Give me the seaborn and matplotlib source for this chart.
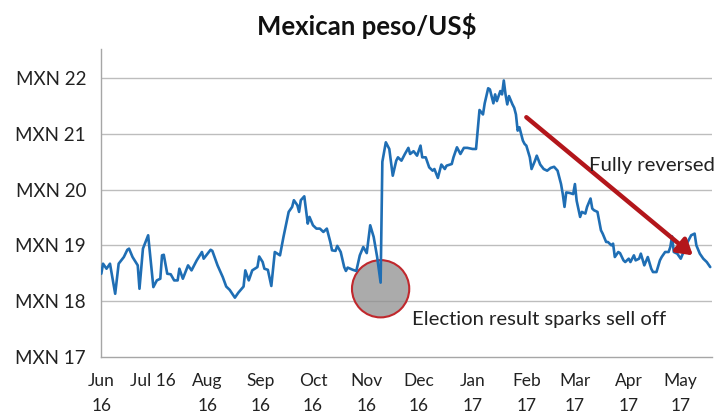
import numpy as np
import pandas as pd
import matplotlib
matplotlib.use("Agg")
import matplotlib.pyplot as plt
import matplotlib.dates as mdates
import seaborn as sns

# ---- data ----
start_date = "2016-06-01"
day_offset = [0, 1, 3, 5, 8, 10, 13, 15, 16, 18, 21, 22, 24, 27, 30, 32, 34, 35, 36, 38,
              40, 42, 44, 45, 47, 50, 52, 55, 58, 59, 63, 64, 67, 70, 72, 74, 77, 79, 82, 83,
              85, 87, 90, 91, 93, 94, 96, 98, 100, 103, 105, 108, 110, 111, 113, 114, 115, 117, 119, 120,
              122, 124, 126, 128, 130, 132, 133, 135, 136, 138, 140, 141, 142, 145, 147, 149, 151, 153, 155, 157,
              159, 161, 162, 164, 166, 168, 170, 171, 173, 175, 177, 178, 180, 182, 184, 185, 187, 189, 191, 192,
              194, 196, 198, 199, 202, 203, 205, 207, 209, 211, 214, 216, 218, 220, 221, 223, 224, 226, 227, 228,
              230, 231, 232, 233, 234, 235, 237, 238, 239, 240, 241, 243, 244, 245, 247, 248, 250, 251, 253, 255,
              257, 259, 261, 263, 265, 266, 267, 268, 270, 272, 273, 274, 276, 277, 279, 280, 282, 283, 284, 286,
              288, 289, 291, 292, 294, 295, 296, 298, 299, 301, 302, 304, 305, 307, 308, 310, 311, 313, 315, 317,
              318, 320, 322, 323, 325, 327, 328, 329, 330, 332, 334, 336, 338, 340, 342, 343, 345, 347, 349, 351]
mxn_per_usd = [18.49, 18.67, 18.58, 18.67, 18.13, 18.67, 18.79, 18.92, 18.94, 18.79, 18.64, 18.22, 18.94, 19.18, 18.25, 18.37, 18.40, 18.82, 18.83, 18.49,
               18.48, 18.37, 18.37, 18.58, 18.40, 18.64, 18.55, 18.73, 18.88, 18.76, 18.92, 18.90, 18.64, 18.43, 18.26, 18.20, 18.06, 18.15, 18.26, 18.55,
               18.37, 18.55, 18.61, 18.80, 18.70, 18.58, 18.56, 18.27, 18.88, 18.82, 19.15, 19.60, 19.69, 19.81, 19.72, 19.60, 19.81, 19.88, 19.39, 19.51,
               19.36, 19.30, 19.30, 19.24, 19.30, 19.06, 18.91, 18.90, 18.99, 18.88, 18.61, 18.54, 18.60, 18.56, 18.54, 18.82, 18.97, 18.86, 19.36, 19.15,
               18.79, 18.33, 20.50, 20.85, 20.73, 20.25, 20.52, 20.58, 20.52, 20.64, 20.75, 20.64, 20.69, 20.61, 20.79, 20.58, 20.58, 20.40, 20.34, 20.37,
               20.21, 20.45, 20.37, 20.43, 20.46, 20.58, 20.76, 20.64, 20.75, 20.75, 20.73, 20.73, 21.43, 21.35, 21.55, 21.82, 21.80, 21.55, 21.71, 21.59,
               21.77, 21.71, 21.96, 21.71, 21.53, 21.68, 21.53, 21.47, 21.35, 21.06, 21.12, 20.88, 20.82, 20.79, 20.58, 20.37, 20.52, 20.61, 20.45, 20.37,
               20.34, 20.39, 20.41, 20.34, 20.10, 19.92, 19.69, 19.95, 19.94, 19.92, 20.10, 19.80, 19.51, 19.60, 19.57, 19.69, 19.84, 19.66, 19.63, 19.60,
               19.27, 19.21, 19.06, 19.06, 19.00, 19.03, 18.79, 18.88, 18.86, 18.73, 18.70, 18.76, 18.70, 18.82, 18.73, 18.76, 18.85, 18.64, 18.79, 18.58,
               18.52, 18.52, 18.73, 18.79, 18.88, 18.88, 18.97, 19.16, 18.88, 18.85, 18.76, 18.91, 19.06, 19.18, 19.21, 19.00, 18.85, 18.76, 18.70, 18.61]

tick_dates = ["2016-06-01", "2016-07-01", "2016-08-01", "2016-09-01", "2016-10-01", "2016-11-01",
              "2016-12-01", "2017-01-01", "2017-02-01", "2017-03-01", "2017-04-01", "2017-05-01"]
tick_labels = ["Jun\n16", "Jul 16", "Aug\n16", "Sep\n16", "Oct\n16", "Nov\n16",
               "Dec\n16", "Jan\n17", "Feb\n17", "Mar\n17", "Apr\n17", "May\n17"]
y_ticks = [17, 18, 19, 20, 21, 22]
y_labels = ["MXN 17", "MXN 18", "MXN 19", "MXN 20", "MXN 21", "MXN 22"]

title = "Mexican peso/US$"
election_label = "Election result sparks sell off"
reversal_label = "Fully reversed"
election_date, election_level = "2016-11-09", 18.22
arrow_from = ("2017-02-01", 21.30)
arrow_to = ("2017-05-08", 18.82)

# ---- build ----
df = pd.DataFrame({
    "date": pd.Timestamp(start_date) + pd.to_timedelta(day_offset, unit="D"),
    "value": mxn_per_usd,
})

sns.set_style("white")
plt.rcParams["font.family"] = ["Lato", "DejaVu Sans"]

fig = plt.figure(figsize=(7.18, 4.17), dpi=100)
ax = fig.add_axes([0.1411, 0.1446, 0.8505, 0.7372])

grid_c = "#bdbdbd"
for y in y_ticks[1:]:
    ax.axhline(y, color=grid_c, lw=1.0, zorder=0)

sns.lineplot(data=df, x="date", y="value", ax=ax, color="#1f6eb4", lw=1.9, zorder=3)

# grey circle at the election
ax.scatter([pd.Timestamp(election_date)], [election_level], s=1700,
           facecolor="#8f8f8f", alpha=0.75, edgecolor="none", zorder=2)
ax.scatter([pd.Timestamp(election_date)], [election_level], s=1700,
           facecolor="none", edgecolor="#c0282d", linewidth=1.5, zorder=2)

# red arrow
x0 = mdates.date2num(pd.Timestamp(arrow_from[0]))
x1 = mdates.date2num(pd.Timestamp(arrow_to[0]))
ax.annotate("", xy=(x1, arrow_to[1]), xytext=(x0, arrow_from[1]),
            arrowprops=dict(arrowstyle="-|>,head_length=0.9,head_width=0.55",
                            color="#b3161b", lw=3.2, shrinkA=0, shrinkB=0), zorder=4)

ax.text(mdates.date2num(pd.Timestamp("2017-03-09")), 20.43, reversal_label,
        fontsize=14.6, color="#222222", va="center", ha="left", zorder=5)
ax.text(mdates.date2num(pd.Timestamp("2016-11-27")), 17.67, election_label,
        fontsize=14.6, color="#222222", va="center", ha="left", zorder=5)

ax.set_xlim(pd.Timestamp("2016-06-01"), pd.Timestamp("2017-05-19"))
ax.set_ylim(17, 22.52)
ax.set_xticks(pd.to_datetime(tick_dates))
ax.set_xticklabels(tick_labels, fontsize=12.5, color="#222222", linespacing=1.65)
ax.set_yticks(y_ticks)
ax.set_yticklabels(y_labels, fontsize=13.5, color="#222222")
ax.set_xlabel("")
ax.set_ylabel("")

for s in ["top", "right"]:
    ax.spines[s].set_visible(False)
for s in ["left", "bottom"]:
    ax.spines[s].set_color("#a6a6a6")
    ax.spines[s].set_linewidth(1.0)
ax.tick_params(axis="both", which="major", direction="out", length=5, width=1,
               color="#a6a6a6")
ax.tick_params(axis="y", pad=6)
ax.tick_params(axis="x", pad=7)

fig.text(367 / 718, 1 - 26 / 417, title, fontsize=18.5, fontweight="bold",
         ha="center", va="center", color="#111111")

fig.savefig("out.png", dpi=100, facecolor="white")
